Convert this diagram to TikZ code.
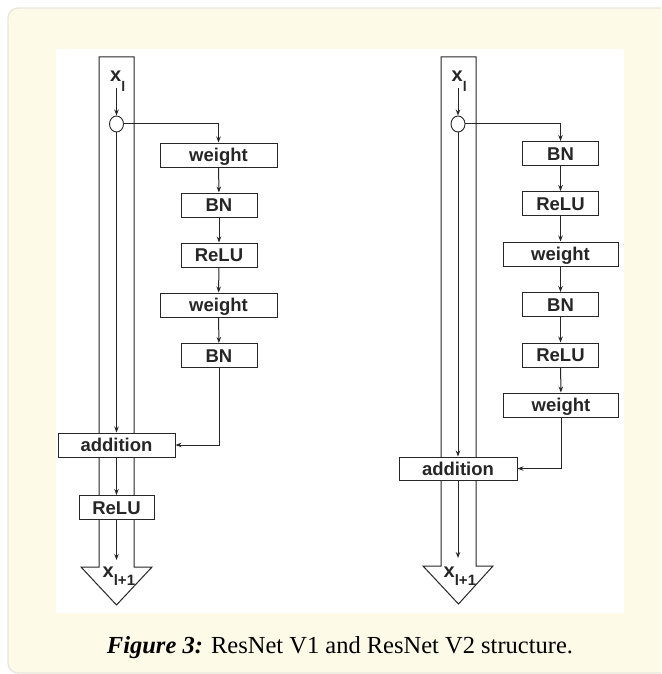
\documentclass[tikz,border=0pt]{standalone}
\usepackage{fontspec}
\setmainfont{Liberation Serif}
\newfontfamily\arialfont{Liberation Sans}
\usetikzlibrary{arrows.meta,shapes.geometric}
\definecolor{cream}{HTML}{FEFAE8}
\definecolor{creamborder}{HTML}{E9E6DB}
\definecolor{ink}{HTML}{262626}
\newcommand{\xsubscr}[3]{x\raisebox{#2}{\fontsize{#1}{#1}\selectfont #3}}
\begin{document}
\begin{tikzpicture}[x=1pt,y=-1pt,
  blk/.style={draw=ink, line width=1pt, fill=white, inner sep=0pt, minimum height=24pt,
    text height=13.3pt, text depth=0pt, text=ink, font=\arialfont\bfseries\fontsize{18.5}{18.5}\selectfont},
  wide/.style={blk, minimum width=117pt},
  narrow/.style={blk, minimum width=76pt},
  conn/.style={draw=ink, line width=1pt},
  arr/.style={conn, -{Stealth[length=6pt,width=4.5pt]}},
  band/.style={draw=ink, line width=1pt, line join=miter},
  junc/.style={ellipse, draw=ink, line width=0.9pt, fill=white, minimum width=14pt, minimum height=16pt, inner sep=0pt},
  lbl/.style={text=ink, inner sep=0pt, font=\arialfont\bfseries\fontsize{20}{20}\selectfont}
]
\useasboundingbox (0,0) rectangle (661,674);
\clip (0,0) rectangle (661,674);
\fill[white] (0,0) rectangle (661,674);
\filldraw[fill=cream, draw=creamborder, line width=1.2pt, rounded corners=10pt] (8,8) rectangle (700,673);
\fill[white] (56,49) rectangle (624,613);

% ---------- left: ResNet V1 ----------
\draw[band] (99,567) -- (99,57) -- (134,57) -- (134,567) -- (152,567) -- (116.5,605) -- (81,567) -- cycle;
\node[lbl, anchor=base west] (xa) at (110,82) {\xsubscr{14}{-10pt}{l}};
\node[junc] (c1) at (116.5,124) {};
\coordinate (s1) at (116.5,88);
\node[wide]   (w1)  at (218.5,155)  {weight};
\node[narrow] (b1)  at (219,205)    {BN};
\node[narrow] (r1)  at (219,255)    {ReLU};
\node[wide]   (w2)  at (218.5,305)  {weight};
\node[narrow] (b2)  at (219,355.5)  {BN};
\node[wide]   (add1) at (116.5,445) {addition};
\node[narrow, minimum width=75pt] (r3) at (116.5,507.5) {ReLU};
\node[lbl, anchor=base west] (xb) at (102.5,577) {\xsubscr{15}{-8pt}{l+1}};
\coordinate (e1) at (116.5,560);

\draw[arr] (s1) -- (c1.north);
\draw[arr] (c1.east) -| (w1.north);
\draw[arr] (w1) -- (b1);
\draw[arr] (b1) -- (r1);
\draw[arr] (r1) -- (w2);
\draw[arr] (w2) -- (b2);
\draw[arr] (b2.south) |- (add1.east);
\draw[arr] (c1.south) -- (c1 |- add1.north);
\draw[arr] (c1 |- add1.south) -- (c1 |- r3.north);
\draw[arr] (c1 |- r3.south) -- (e1);

% ---------- right: ResNet V2 ----------
\draw[band] (441,566) -- (441,57) -- (476,57) -- (476,566) -- (493,566) -- (458.5,604) -- (423,566) -- cycle;
\node[lbl, anchor=base west] (xc) at (451.5,82) {\xsubscr{14}{-10pt}{l}};
\node[junc] (c2) at (458,124) {};
\coordinate (s2) at (458,88);
\node[narrow] (bA) at (560.5,153.5) {BN};
\node[narrow] (rA) at (560.5,203.5) {ReLU};
\node[wide, minimum width=115pt] (wA) at (560.5,254) {weight};
\node[narrow] (bB) at (560.5,304.5) {BN};
\node[narrow] (rB) at (560.5,355) {ReLU};
\node[wide, minimum width=115pt] (wB) at (561,405) {weight};
\node[wide, minimum width=118pt, minimum height=23pt] (add2) at (458,468.5) {addition};
\node[lbl, anchor=base west] (xd) at (443.5,577) {\xsubscr{15}{-8pt}{l+1}};
\coordinate (e2) at (458,558);

\draw[arr] (s2) -- (c2.north);
\draw[arr] (c2.east) -| (bA.north);
\draw[arr] (bA) -- (rA);
\draw[arr] (rA) -- (wA);
\draw[arr] (wA) -- (bB);
\draw[arr] (bB) -- (rB);
\draw[arr] (rB) -- (wB);
\draw[arr] (wB.south) |- (add2.east);
\draw[arr] (c2.south) -- (c2 |- add2.north);
\draw[arr] (c2 |- add2.south) -- (e2);

% ---------- caption ----------
\node[anchor=base, inner sep=0pt, text=black] (cap) at (340,653)
  {\resizebox{466pt}{!}{\textbf{\textit{Figure 3:}} ResNet V1 and ResNet V2 structure.}};
\end{tikzpicture}
\end{document}
